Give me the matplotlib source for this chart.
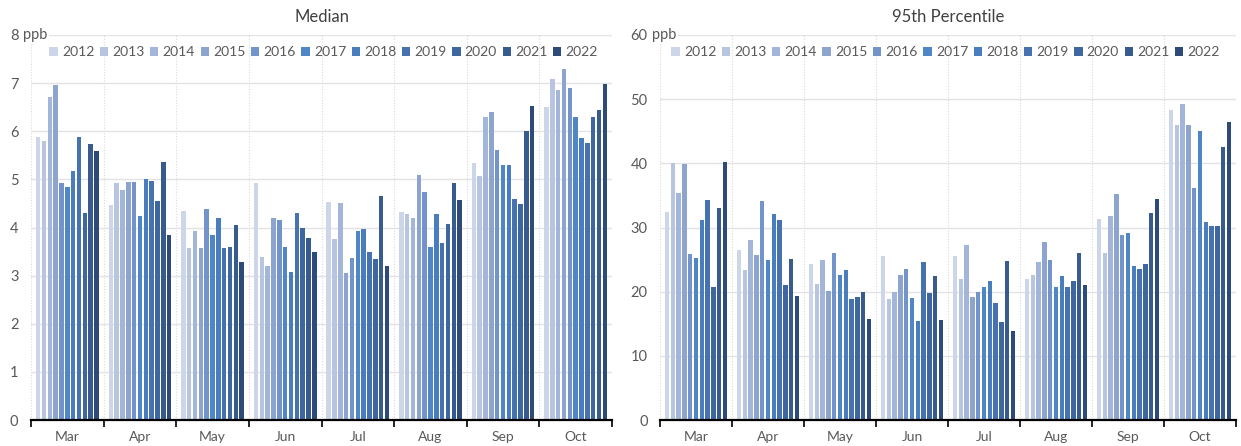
import matplotlib
matplotlib.use('Agg')
import matplotlib.pyplot as plt
from matplotlib.ticker import FixedLocator, NullFormatter
import numpy as np

plt.rcParams['font.family'] = ['Lato', 'DejaVu Sans']

# ── data ──
months = ['Mar', 'Apr', 'May', 'Jun', 'Jul', 'Aug', 'Sep', 'Oct']
years = ['2012', '2013', '2014', '2015', '2016', '2017',
         '2018', '2019', '2020', '2021', '2022']

# median (ppb), one list per month, values for 2012..2022
med_mar = [5.88, 5.80, 6.72, 6.96, 4.92, 4.85, 5.17, 5.89, 4.31, 5.74, 5.60]
med_apr = [4.47, 4.93, 4.77, 4.94, 4.94, 4.23, 5.00, 4.97, 4.55, 5.36, 3.85]
med_may = [4.35, 3.58, 3.93, 3.58, 4.38, 3.85, 4.20, 3.57, 3.60, 4.05, 3.28]
med_jun = [4.92, 3.38, 3.20, 4.20, 4.15, 3.60, 3.08, 4.30, 4.00, 3.79, 3.49]
med_jul = [4.53, 3.76, 4.50, 3.06, 3.37, 3.93, 3.96, 3.49, 3.34, 4.65, 3.19]
med_aug = [4.33, 4.28, 4.20, 5.10, 4.74, 3.59, 4.28, 3.67, 4.08, 4.93, 4.58]
med_sep = [5.34, 5.06, 6.30, 6.41, 5.62, 5.30, 5.30, 4.59, 4.49, 6.00, 6.52]
med_oct = [6.50, 7.09, 6.86, 7.30, 6.90, 6.29, 5.86, 5.75, 6.29, 6.45, 6.99]

# 95th percentile (ppb)
p95_mar = [32.4, 40.0, 35.3, 39.9, 25.9, 25.3, 31.2, 34.3, 20.8, 33.0, 40.2]
p95_apr = [26.5, 23.3, 28.1, 25.7, 34.2, 24.9, 32.1, 31.1, 21.0, 25.1, 19.3]
p95_may = [24.3, 21.2, 25.0, 20.1, 26.0, 22.6, 23.4, 18.9, 19.1, 20.0, 15.8]
p95_jun = [25.5, 18.9, 19.9, 22.6, 23.6, 19.0, 15.4, 24.6, 19.8, 22.4, 15.6]
p95_jul = [25.6, 21.9, 27.2, 19.2, 19.9, 20.7, 21.6, 18.2, 15.3, 24.8, 13.9]
p95_aug = [21.9, 22.6, 24.7, 27.8, 25.0, 20.7, 22.4, 20.8, 21.6, 26.0, 21.1]
p95_sep = [31.4, 26.0, 31.8, 35.2, 28.8, 29.1, 24.0, 23.5, 24.3, 32.3, 34.4]
p95_oct = [48.3, 45.9, 49.3, 46.0, 36.2, 45.0, 30.8, 30.3, 30.3, 42.5, 46.4]

median = np.array([med_mar, med_apr, med_may, med_jun,
                   med_jul, med_aug, med_sep, med_oct])
p95 = np.array([p95_mar, p95_apr, p95_may, p95_jun,
                p95_jul, p95_aug, p95_sep, p95_oct])

# ── style ──
COLORS = ['#CDD6E8', '#B7C5E0', '#A3B5D8', '#8DA4CF', '#7294CB', '#4F86C6',
          '#4A7DBE', '#4673B0', '#3F679F', '#385B8E', '#2D4A78']
TXT = '#595959'
GRID = '#E3E3E3'
SLOT = 0.0803
BAR_W = 0.062


def panel(ax, data, title, ymax, ystep, leg_x):
    x = np.arange(len(months))
    for j, yr in enumerate(years):
        off = (j - (len(years) - 1) / 2) * SLOT
        ax.bar(x + off, data[:, j], width=BAR_W, color=COLORS[j],
               label=yr, zorder=3)

    ax.set_xlim(-0.5, len(months) - 0.5)
    ax.set_ylim(0, ymax)
    ax.set_yticks(np.arange(0, ymax + 0.01, ystep))
    ax.yaxis.grid(True, color=GRID, lw=1.0, zorder=0)

    # group boundaries: dotted vertical grid + outward tick marks
    bounds = np.arange(len(months) + 1) - 0.5
    ax.xaxis.set_major_locator(FixedLocator(bounds))
    ax.xaxis.set_major_formatter(NullFormatter())
    ax.xaxis.set_minor_locator(FixedLocator(x))
    ax.set_xticklabels(months, minor=True)
    ax.tick_params(axis='x', which='major', length=5, width=1.2,
                   color='black', direction='out')
    ax.tick_params(axis='x', which='minor', length=0, pad=8,
                   labelsize=10, labelcolor=TXT)
    for b in bounds:
        ax.axvline(b, color='#DADADA', lw=0.8, ls=(0, (1, 1.5)), zorder=0)

    ax.tick_params(axis='y', length=0, labelsize=10.5, labelcolor=TXT, pad=9)
    for s in ['left', 'right', 'top']:
        ax.spines[s].set_visible(False)
    ax.spines['bottom'].set_color('black')
    ax.spines['bottom'].set_linewidth(1.6)
    ax.spines['bottom'].set_zorder(4)

    # unit label next to the top tick
    ax.annotate('ppb', xy=(0, ymax), xycoords=ax.get_yaxis_transform(),
                xytext=(-6, 0), textcoords='offset points',
                ha='left', va='center', fontsize=10.5, color=TXT, zorder=5,
                bbox=dict(facecolor='white', edgecolor='none', pad=1.5))

    ax.set_title(title, fontsize=12, color='#404040', pad=9)
    leg = ax.legend(loc='upper left', bbox_to_anchor=(leg_x, 0.985),
                    ncol=len(years), frameon=False, fontsize=10,
                    handlelength=0.6, handleheight=0.6,
                    handletextpad=0.3, columnspacing=0.4,
                    borderaxespad=0.0)
    for t in leg.get_texts():
        t.set_color(TXT)


fig = plt.figure(figsize=(12.41, 4.46), dpi=100, facecolor='white')
ax1 = fig.add_axes([31 / 1241, 1 - 420 / 446, 581 / 1241, 385 / 446])
ax2 = fig.add_axes([660 / 1241, 1 - 420 / 446, 576 / 1241, 385 / 446])

panel(ax1, median, 'Median', 8, 1, 0.022)
panel(ax2, p95, '95th Percentile', 60, 10, 0.010)

fig.savefig('out.png', dpi=100, facecolor='white')
plt.close()
